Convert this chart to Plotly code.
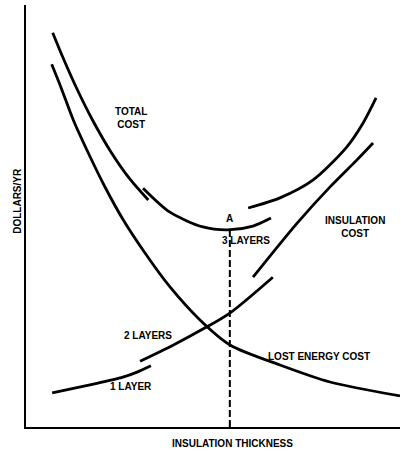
import plotly.graph_objects as go

# Data (x: insulation thickness 0-100, y: dollars/yr 0-100)
total_1_x = [7.14, 9.76, 13.64, 17.78, 22.46, 27.81, 32.70]
total_1_y = [93.44, 87.80, 80.09, 72.75, 65.55, 58.72, 53.79]
total_2_x = [31.3, 38.5, 47.3, 54.0, 60.7, 65.5]
total_2_y = [56.6, 50.9, 47.4, 46.7, 47.6, 49.5]
total_3_x = [59.4, 67.9, 76.7, 85.8, 90.1, 93.6]
total_3_y = [51.9, 54.3, 58.5, 66.4, 72.0, 78.0]

lost_x = [6.87, 9.28, 12.65, 16.66, 21.12, 26.02, 31.82, 38.50, 46.52, 54.55, 67.91, 81.28, 100]
lost_y = [85.95, 80.64, 72.75, 64.93, 56.87, 49.05, 41.23, 33.18, 25.36, 19.43, 14.69, 10.66, 7.35]

layer1_x = [7.0, 17.1, 25.9, 29.7, 33.4]
layer1_y = [8.1, 10.0, 11.8, 13.0, 14.5]
layer2_x = [30.5, 39.3, 47.9, 54.5, 66.0]
layer2_y = [15.6, 19.4, 23.5, 27.0, 35.5]
layer3_x = [60.7, 72.5, 81.3, 88.5, 92.8]
layer3_y = [35.5, 48.3, 56.9, 63.3, 67.3]

optimum_x = [54.5, 54.5]
optimum_y = [0, 46.7]

labels = [
    ("TOTAL<br>COST", 28.1, 73.2),
    ("A", 54.3, 49.5),
    ("3 LAYERS", 58.8, 44.3),
    ("INSULATION<br>COST", 88.0, 47.4),
    ("2 LAYERS", 32.6, 21.8),
    ("1 LAYER", 28.1, 9.5),
    ("LOST ENERGY COST", 78.3, 16.6),
]

fig = go.Figure()
line = dict(color="black", width=2.8, shape="spline", smoothing=0.8)
for xs, ys in [(total_1_x, total_1_y), (total_2_x, total_2_y), (total_3_x, total_3_y),
               (lost_x, lost_y), (layer1_x, layer1_y), (layer2_x, layer2_y),
               (layer3_x, layer3_y)]:
    fig.add_trace(go.Scatter(x=xs, y=ys, mode="lines", line=line, hoverinfo="skip"))

fig.add_trace(go.Scatter(x=optimum_x, y=optimum_y, mode="lines",
                         line=dict(color="black", width=2, dash="7px,3px"),
                         hoverinfo="skip"))

font = dict(family="Arial, Liberation Sans, sans-serif", size=10, color="black")
for txt, x, y in labels:
    fig.add_annotation(x=x, y=y, text="<b>" + txt + "</b>", showarrow=False, font=font,
                       xanchor="center", yanchor="middle")

fig.add_annotation(x=0.551, y=-0.038, xref="paper", yref="paper",
                   text="<b>INSULATION THICKNESS</b>", showarrow=False, font=font,
                   xanchor="center", yanchor="middle")
fig.add_annotation(x=-0.0214, y=0.536, xref="paper", yref="paper",
                   text="<b>DOLLARS/YR</b>", textangle=-90, showarrow=False, font=font,
                   xanchor="center", yanchor="middle")

fig.update_layout(
    width=400, height=451,
    margin=dict(l=26, r=0, t=5, b=24),
    paper_bgcolor="white", plot_bgcolor="white",
    showlegend=False,
)
fig.update_xaxes(range=[0, 100], showline=True, linecolor="black", linewidth=2,
                 showgrid=False, zeroline=False, showticklabels=False, ticks="")
fig.update_yaxes(range=[0, 100], showline=True, linecolor="black", linewidth=2,
                 showgrid=False, zeroline=False, showticklabels=False, ticks="")

fig.write_html("out.html", config={"displayModeBar": False},
               post_script="document.body.style.margin='0px';")
